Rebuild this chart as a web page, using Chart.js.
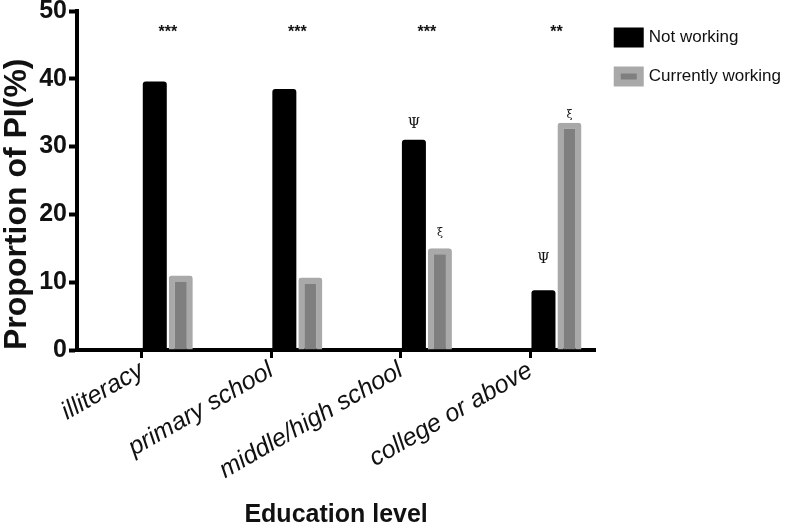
<!DOCTYPE html>
<html>
<head>
<meta charset="utf-8">
<script src="https://cdn.jsdelivr.net/npm/chart.js@4.4.0/dist/chart.umd.min.js"></script>
<style>
  html, body { margin: 0; padding: 0; background: #fff; }
</style>
</head>
<body>
<canvas id="piChart" width="787" height="528"></canvas>
<script>
  // Data
  const categories = ['illiteracy', 'primary school', 'middle/high school', 'college or above'];
  const notWorking = [39.6, 38.5, 31.0, 8.8];
  const currentlyWorking = [11.0, 10.7, 15.0, 33.5];
  const yTicks = [0, 10, 20, 30, 40, 50];

  // significance marks (text) and the y value they sit at
  const sigStars = ['***', '***', '***', '**'];
  const starsAt = 46.8;
  const notWorkingMarks = ['', '', 'Ψ', 'Ψ'];
  const notWorkingMarkAt = [null, null, 33.3, 13.4];
  const workingMarks = ['', '', 'ξ', 'ξ'];
  const workingMarkAt = [null, null, 17.3, 34.7];

  const family = '"Liberation Sans", Arial, Helvetica, sans-serif';
  const empty = categories.map(() => null);

  // draws the asterisks and Ψ / ξ marks over the bars
  const marksPlugin = {
      id: 'marks',
      afterDatasetsDraw(chart) {
          const ctx = chart.ctx;
          const y = chart.scales.y;
          const black = chart.getDatasetMeta(2).data;
          const grey = chart.getDatasetMeta(3).data;
          ctx.save();
          ctx.textAlign = 'center';
          ctx.textBaseline = 'middle';
          ctx.fillStyle = '#111';
          categories.forEach((c, i) => {
              ctx.font = 'bold 16px ' + family;
              ctx.fillText(sigStars[i], (black[i].x + grey[i].x) / 2, y.getPixelForValue(starsAt));
              ctx.font = '14px "DejaVu Serif", serif';
              if (notWorkingMarks[i]) {
                  ctx.fillText(notWorkingMarks[i], black[i].x, y.getPixelForValue(notWorkingMarkAt[i]));
              }
              ctx.font = '11px "DejaVu Serif", serif';
              if (workingMarks[i]) {
                  ctx.fillText(workingMarks[i], grey[i].x, y.getPixelForValue(workingMarkAt[i]));
              }
          });
          ctx.restore();
      }
  };

  const ctx = document.getElementById('piChart').getContext('2d');
  const piChart = new Chart(ctx, {
      type: 'bar',
      data: {
          labels: categories,
          datasets: [
              // two empty slots so the real bars sit right of each tick
              { label: 'pad1', data: empty },
              { label: 'pad2', data: empty },
              {
                  label: 'Not working',
                  data: notWorking,
                  backgroundColor: '#000000',
                  borderWidth: 0,
                  borderRadius: 3
              },
              {
                  label: 'Currently working',
                  data: currentlyWorking,
                  backgroundColor: '#7f7f7f',
                  borderColor: '#a9a9a9',
                  borderWidth: 6,
                  borderRadius: 3
              }
          ]
      },
      options: {
          responsive: false,
          animation: false,
          categoryPercentage: 0.803,
          barPercentage: 0.923,
          layout: { padding: { top: 0, right: -4, bottom: 0, left: 0 } },
          plugins: {
              tooltip: { enabled: false },
              legend: {
                  position: 'right',
                  align: 'start',
                  title: { display: true, text: '', padding: { top: 3, bottom: 3 }, font: { size: 1, lineHeight: 1 } },
                  labels: {
                      boxWidth: 23,
                      boxHeight: 13,
                      padding: 22,
                      color: '#111',
                      font: { family: family, size: 17 },
                      generateLabels(chart) {
                          return Chart.defaults.plugins.legend.labels.generateLabels(chart)
                              .filter(item => item.datasetIndex >= 2)
                              .map(item => Object.assign(item, {
                                  lineWidth: 7,
                                  strokeStyle: item.datasetIndex === 2 ? '#000000' : '#a9a9a9'
                              }));
                      }
                  }
              }
          },
          scales: {
              x: {
                  offset: true,
                  afterFit(scale) { scale.height = 178; },
                  border: { color: '#000', width: 4 },
                  grid: {
                      offset: false,
                      drawOnChartArea: false,
                      color: '#000',
                      tickLength: 8,
                      tickWidth: 3
                  },
                  ticks: {
                      autoSkip: false,
                      minRotation: 30,
                      maxRotation: 30,
                      padding: 0,
                      color: '#111',
                      font: { family: family, size: 25, style: 'italic', lineHeight: 1 }
                  },
                  title: {
                      display: true,
                      text: 'Education level',
                      color: '#111',
                      padding: { top: 0, bottom: 0 },
                      font: { family: family, size: 25, weight: 'bold', lineHeight: 1 }
                  }
              },
              y: {
                  min: 0,
                  max: 50,
                  afterFit(scale) {
                      scale.width = 77;
                      scale.paddingTop = 11;
                  },
                  afterBuildTicks(scale) { scale.ticks = yTicks.map(v => ({ value: v })); },
                  border: { color: '#000', width: 4 },
                  grid: {
                      drawOnChartArea: false,
                      color: '#000',
                      tickLength: 8,
                      tickWidth: 4
                  },
                  ticks: {
                      padding: 2,
                      color: '#111',
                      font: { family: family, size: 25, weight: 'bold', lineHeight: 1 }
                  },
                  title: {
                      display: true,
                      text: 'Proportion of PI(%)',
                      align: 'start',
                      color: '#111',
                      padding: { top: 1, bottom: 0 },
                      font: { family: family, size: 32, weight: 'bold', lineHeight: 1 }
                  }
              }
          }
      },
      plugins: [marksPlugin]
  });
</script>
</body>
</html>
